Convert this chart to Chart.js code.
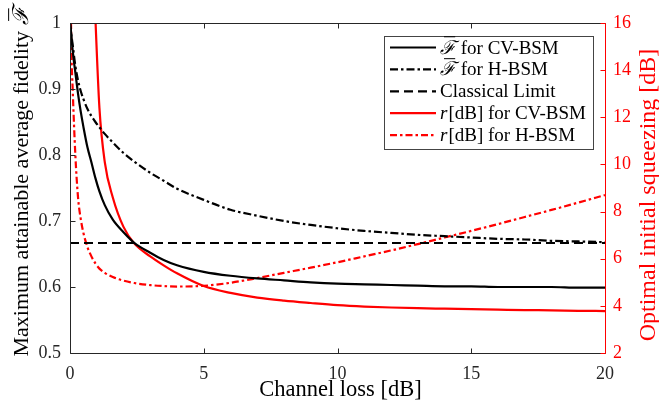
<!DOCTYPE html>
<html>
<head>
<meta charset="utf-8">
<title>Fidelity vs channel loss</title>
<script src="https://cdn.jsdelivr.net/npm/chart.js@4/dist/chart.umd.min.js"></script>
<style>
  html, body { margin: 0; padding: 0; background: #fff; }
  #wrap { width: 659px; height: 416px; position: relative; }
</style>
</head>
<body>
<div id="wrap"><canvas id="fidelityChart"></canvas></div>
<script>
/* ------------------------------------------------------------------
   DATA
   ------------------------------------------------------------------ */
var lossDb = [0, 0.05, 0.1, 0.2, 0.3, 0.4, 0.5, 0.65, 0.8, 0.95, 1.1, 1.3, 1.6, 2, 2.4, 3, 3.5, 4,
              5, 6, 7, 8, 9, 10, 11, 12, 13, 14, 15, 16, 17, 18, 19, 20];

// average fidelity (left axis)
var fidCV = [1.0, 0.982, 0.958, 0.925, 0.893, 0.866, 0.843, 0.812, 0.789, 0.765, 0.745, 0.724, 0.702,
             0.683, 0.667, 0.652, 0.641, 0.633, 0.623, 0.617, 0.613, 0.61, 0.607, 0.605, 0.604, 0.603,
             0.602, 0.601, 0.601, 0.6, 0.6, 0.6, 0.599, 0.599];
var fidH  = [1.0, 0.982, 0.967, 0.935, 0.913, 0.897, 0.885, 0.870, 0.859, 0.850, 0.842, 0.832, 0.819,
             0.803, 0.79, 0.773, 0.761, 0.749, 0.732, 0.717, 0.708, 0.70, 0.694, 0.689, 0.685, 0.682,
             0.679, 0.677, 0.675, 0.673, 0.672, 0.67, 0.669, 0.668];

var classicalLoss = [0, 20];
var classicalFid  = [0.6667, 0.6667];

// optimal initial squeezing in dB (right axis)
var sqCV = [null, null, null, null, null, null, null, null, 21, 16.2, 12.4, 10.1, 8.6, 7.35, 6.65, 6.1,
            5.72, 5.38, 4.84, 4.55, 4.35, 4.22, 4.12, 4.03, 3.97, 3.93, 3.9, 3.88, 3.86, 3.84, 3.82,
            3.81, 3.79, 3.78];
var sqH  = [20, 15.0, 13.2, 10.4, 8.6, 7.7, 7.1, 6.5, 6.1, 5.8, 5.58, 5.4, 5.22, 5.07, 4.97, 4.88,
            4.84, 4.82, 4.85, 4.98, 5.18, 5.4, 5.62, 5.85, 6.1, 6.35, 6.62, 6.9, 7.18, 7.47, 7.77,
            8.07, 8.38, 8.7];

var seriesLabels = ['\u2131\u0304 for CV-BSM', '\u2131\u0304 for H-BSM', 'Classical Limit',
                    'r[dB] for CV-BSM', 'r[dB] for H-BSM'];

var xTicks  = [0, 5, 10, 15, 20];
var yTicks  = [0.5, 0.6, 0.7, 0.8, 0.9, 1];
var y2Ticks = [2, 4, 6, 8, 10, 12, 14, 16];

var xTitle  = 'Channel loss [dB]';
var yTitle  = 'Maximum attainable average fidelity \u2131\u0304';
var y2Title = 'Optimal initial squeezing [dB]';

/* ------------------------------------------------------------------
   STYLE
   ------------------------------------------------------------------ */
var RED   = '#ff0000';
var BLACK = '#000000';
var AXIS  = '#262626';
var SERIF = "'Liberation Serif', 'DejaVu Serif', serif";

function pts(xs, ys) {
  return xs.map(function (x, i) { return { x: x, y: ys[i] }; });
}

function lineSet(label, xs, ys, color, dash, axis) {
  return {
    label: label,
    data: pts(xs, ys),
    yAxisID: axis,
    borderColor: color,
    borderWidth: 2.2,
    borderDash: dash,
    pointRadius: 0,
    fill: false,
    cubicInterpolationMode: 'monotone',
  };
}

function plainTick(v) { return String(v); }

/* ------------------------------------------------------------------
   draw a label, treating "ℱ̄" and a leading "r" as math (italic / bar)
   ------------------------------------------------------------------ */
function drawMathText(ctx, text, x, y, size, color) {
  ctx.fillStyle = color;
  ctx.textBaseline = 'alphabetic';
  ctx.textAlign = 'left';
  var parts = text.split('\u2131\u0304');
  var cx = x;
  parts.forEach(function (p, i) {
    if (i > 0) {
      ctx.font = 'italic ' + size + 'px ' + SERIF;
      var w = ctx.measureText('\u2131').width;
      ctx.fillText('\u2131', cx, y);
      ctx.save();
      ctx.strokeStyle = color;
      ctx.lineWidth = 1;
      ctx.beginPath();
      ctx.moveTo(cx + w * 0.25, y - size * 0.88);
      ctx.lineTo(cx + w * 0.95, y - size * 0.88);
      ctx.stroke();
      ctx.restore();
      cx += w;
    }
    var seg = p;
    if (i === 0 && seg.indexOf('r[') === 0) {
      ctx.font = 'italic ' + size + 'px ' + SERIF;
      ctx.fillText('r', cx, y);
      cx += ctx.measureText('r').width + 1;
      seg = seg.slice(1);
    }
    ctx.font = size + 'px ' + SERIF;
    ctx.fillText(seg, cx, y);
    cx += ctx.measureText(seg).width;
  });
  return cx - x;
}

function measureMath(ctx, text, size) {
  ctx.save();
  ctx.globalAlpha = 0;
  var w = drawMathText(ctx, text, 0, 0, size, '#000');
  ctx.restore();
  return w;
}

/* ------------------------------------------------------------------
   FRAME PLUGIN — MATLAB style box, inward ticks, titles, legend
   ------------------------------------------------------------------ */
var framePlugin = {
  id: 'frame',
  afterDatasetsDraw: function (chart) {
    var ctx = chart.ctx;
    var a = chart.chartArea;
    var sx = chart.scales.x, sy = chart.scales.y, sy2 = chart.scales.y2;
    var L = Math.round(a.left) + 0.5, R = Math.round(a.right) + 0.5;
    var T = Math.round(a.top) + 0.5, B = Math.round(a.bottom) + 0.5;
    var tick = 5;

    ctx.save();
    ctx.lineWidth = 1;

    // black spines + ticks
    ctx.strokeStyle = AXIS;
    ctx.beginPath();
    ctx.moveTo(L, T); ctx.lineTo(L, B); ctx.lineTo(R, B);
    ctx.moveTo(L, T); ctx.lineTo(R, T);
    xTicks.forEach(function (v) {
      var px = Math.round(sx.getPixelForValue(v)) + 0.5;
      ctx.moveTo(px, B); ctx.lineTo(px, B - tick);
      ctx.moveTo(px, T); ctx.lineTo(px, T + tick);
    });
    yTicks.forEach(function (v) {
      var py = Math.round(sy.getPixelForValue(v)) + 0.5;
      ctx.moveTo(L, py); ctx.lineTo(L + tick, py);
    });
    ctx.stroke();

    // red right spine + ticks
    ctx.strokeStyle = RED;
    ctx.beginPath();
    ctx.moveTo(R, T); ctx.lineTo(R, B);
    y2Ticks.forEach(function (v) {
      var py = Math.round(sy2.getPixelForValue(v)) + 0.5;
      ctx.moveTo(R, py); ctx.lineTo(R - tick, py);
    });
    ctx.stroke();

    // axis titles
    var tsize = 22.5;
    ctx.font = tsize + 'px ' + SERIF;
    ctx.fillStyle = BLACK;
    ctx.textAlign = 'center';
    ctx.textBaseline = 'alphabetic';
    ctx.fillText(xTitle, (a.left + a.right) / 2 + 3, 396);

    var wy = measureMath(ctx, yTitle, 22);
    ctx.save();
    ctx.translate(28, 182);
    ctx.rotate(-Math.PI / 2);
    drawMathText(ctx, yTitle, -wy / 2, 0, 22, BLACK);
    ctx.restore();

    ctx.save();
    ctx.translate(655, 195);
    ctx.rotate(-Math.PI / 2);
    ctx.font = '24px ' + SERIF;
    ctx.fillStyle = RED;
    ctx.textAlign = 'center';
    ctx.fillText(y2Title, 0, 0);
    ctx.restore();

    // legend
    var lx = 384.5, ly = 36.5, lw = 209, lh = 113;
    ctx.fillStyle = '#fff';
    ctx.fillRect(lx, ly, lw, lh);
    ctx.strokeStyle = '#444';
    ctx.strokeRect(lx, ly, lw, lh);
    var lsize = 19;
    chart.data.datasets.forEach(function (ds, i) {
      var cy = 47.5 + i * 21.9;
      ctx.save();
      ctx.strokeStyle = ds.borderColor;
      ctx.lineWidth = 2.2;
      ctx.setLineDash(ds.borderDash || []);
      ctx.beginPath();
      ctx.moveTo(390, cy);
      ctx.lineTo(436, cy);
      ctx.stroke();
      ctx.restore();
      drawMathText(ctx, ds.label, 440, cy + 6, lsize, BLACK);
    });

    ctx.restore();
  },
};

/* ------------------------------------------------------------------
   CHART
   ------------------------------------------------------------------ */
function initFidelityChart() {
  var canvas = document.getElementById('fidelityChart');
  var tickFont = { family: SERIF, size: 18 };

  new Chart(canvas, {
    type: 'line',
    data: {
      datasets: [
        lineSet(seriesLabels[0], lossDb, fidCV, BLACK, [], 'y'),
        lineSet(seriesLabels[1], lossDb, fidH, BLACK, [8, 3, 2.5, 3], 'y'),
        lineSet(seriesLabels[2], classicalLoss, classicalFid, BLACK, [9, 5], 'y'),
        lineSet(seriesLabels[3], lossDb, sqCV, RED, [], 'y2'),
        lineSet(seriesLabels[4], lossDb, sqH, RED, [7, 3, 2.5, 3], 'y2'),
      ],
    },
    options: {
      responsive: true,
      maintainAspectRatio: false,
      animation: false,
      layout: { padding: { top: 23, left: 0, right: 0, bottom: 0 } },
      plugins: {
        legend: { display: false },
        tooltip: { enabled: false },
      },
      scales: {
        x: {
          type: 'linear',
          min: 0, max: 20,
          afterBuildTicks: function (s) { s.ticks = xTicks.map(function (v) { return { value: v }; }); },
          afterFit: function (s) { s.height = 63; },
          grid: { display: false, drawTicks: false },
          border: { display: false },
          ticks: { font: tickFont, color: '#262626', padding: 10, maxRotation: 0, callback: plainTick },
        },
        y: {
          position: 'left',
          min: 0.5, max: 1,
          afterBuildTicks: function (s) { s.ticks = yTicks.map(function (v) { return { value: v }; }); },
          afterFit: function (s) { s.width = 70; },
          grid: { display: false, drawTicks: false },
          border: { display: false },
          ticks: { font: tickFont, color: '#262626', padding: 9, callback: plainTick },
        },
        y2: {
          position: 'right',
          min: 2, max: 16,
          afterBuildTicks: function (s) { s.ticks = y2Ticks.map(function (v) { return { value: v }; }); },
          afterFit: function (s) { s.width = 54; },
          grid: { display: false, drawTicks: false },
          border: { display: false },
          ticks: { font: tickFont, color: RED, padding: 8, callback: plainTick },
        },
      },
    },
    plugins: [framePlugin],
  });
}

initFidelityChart();
</script>
</body>
</html>
